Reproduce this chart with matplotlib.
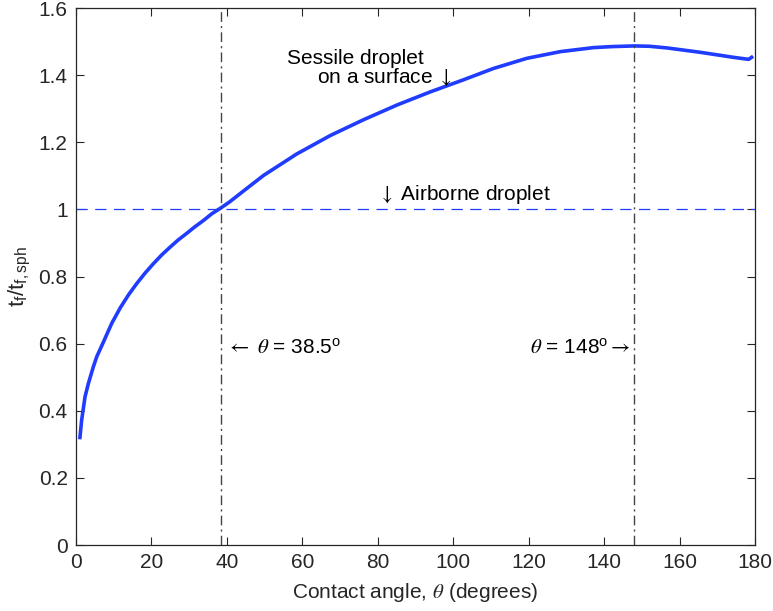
import matplotlib
matplotlib.use("Agg")
import matplotlib.pyplot as plt
from matplotlib.ticker import FuncFormatter

plt.rcParams['font.family'] = ['Liberation Sans', 'DejaVu Sans']
plt.rcParams['mathtext.fontset'] = 'custom'
plt.rcParams['mathtext.rm'] = 'Liberation Sans'
plt.rcParams['mathtext.it'] = 'Liberation Serif:italic'

# Data
theta = [1.0, 1.5, 2.4, 3.3, 4.6, 5.5, 7.2, 9.5, 11.7, 13.9, 16.1, 18.3, 20.5,
         22.7, 24.9, 27.1, 29.4, 31.5, 33.8, 36.0, 38.5, 40.8, 45.0, 49.7,
         58.5, 67.4, 76.2, 85.1, 93.9, 102.7, 110.7, 119.5, 128.4, 137.2,
         142.0, 148.0, 152.0, 156.7, 165.5, 174.3, 178.3, 179.5]
ratio = [0.315, 0.372, 0.442, 0.482, 0.531, 0.561, 0.603, 0.661, 0.706, 0.745,
         0.779, 0.810, 0.838, 0.864, 0.887, 0.909, 0.929, 0.948, 0.967, 0.987,
         1.005, 1.023, 1.060, 1.101, 1.165, 1.220, 1.267, 1.311, 1.350, 1.386,
         1.420, 1.450, 1.470, 1.482, 1.485, 1.487, 1.486, 1.481, 1.468, 1.453,
         1.447, 1.456]
crit_angles = [38.5, 148.0]
airborne_level = 1.0
xticks = list(range(0, 181, 20))
yticks = [0, 0.2, 0.4, 0.6, 0.8, 1.0, 1.2, 1.4, 1.6]

fig = plt.figure(figsize=(7.73, 6.11), dpi=100)
ax = fig.add_axes([0.0983, 0.108, 0.8784, 0.8789])

ax.plot(theta, ratio, color='#1f3cff', lw=2.6, solid_capstyle='butt',
        solid_joinstyle='round')
ax.axhline(airborne_level, color='#1f3cff', lw=0.9, dashes=(9, 6))
for a in crit_angles:
    ax.axvline(a, color='#444444', lw=1.0, dashes=(7, 3, 1.5, 3))

ax.set_xlim(0, 180)
ax.set_ylim(0, 1.6)
ax.set_xticks(xticks)
ax.set_yticks(yticks)
ax.yaxis.set_major_formatter(FuncFormatter(lambda v, p: '%g' % v))
ax.tick_params(direction='in', length=6, width=0.8, top=True, right=True,
               labelsize=15, colors='#262626', pad=6)
for s in ax.spines.values():
    s.set_linewidth(0.9)
    s.set_color('#262626')

ax.set_xlabel(r'Contact angle, $\theta$ (degrees)', fontsize=15, color='#262626',
              labelpad=6, math_fontfamily='stix')
ax.set_ylabel(r'$\mathrm{t_f/t_{f,sph}}$', fontsize=16, color='#262626', labelpad=4)

fs = 15
ax.text(56.0, 1.451, 'Sessile droplet', fontsize=fs, ha='left', va='center')
ax.text(64.0, 1.394, r'on a surface $\downarrow$', fontsize=fs, ha='left', va='center',
        math_fontfamily='stix')
ax.text(80.0, 1.043, r'$\downarrow$ Airborne droplet', fontsize=fs, ha='left', va='center',
        math_fontfamily='stix')
ax.text(39.8, 0.587, r'$\leftarrow$ $\theta$ = 38.5$^{\mathregular{o}}$', fontsize=fs,
        ha='left', va='center', math_fontfamily='stix')
ax.text(147.2, 0.587, r'$\theta$ = 148$^{\mathregular{o}}$$\rightarrow$', fontsize=fs,
        ha='right', va='center', math_fontfamily='stix')

fig.savefig('out.png', dpi=100)
